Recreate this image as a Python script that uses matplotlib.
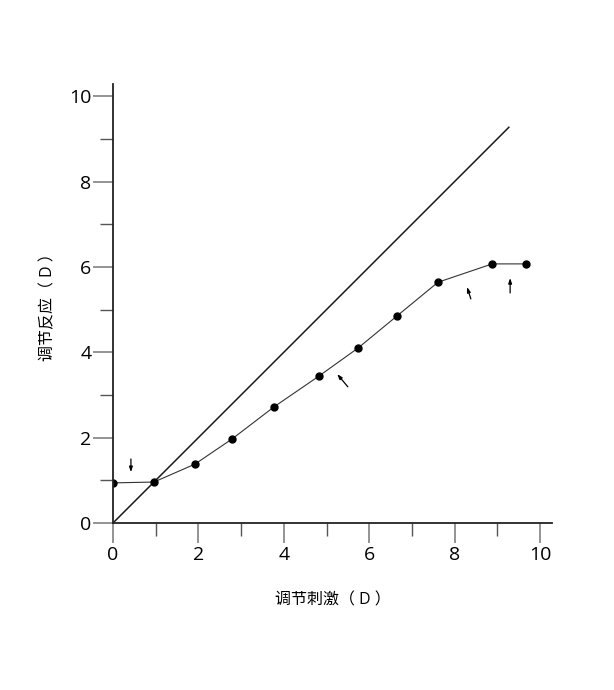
import matplotlib
matplotlib.use("Agg")
import matplotlib.pyplot as plt
from matplotlib.ticker import MultipleLocator

plt.rcParams['font.family'] = ['Open Sans', 'Noto Sans CJK SC', 'DejaVu Sans']

# measured accommodation response
stimulus = [0.0, 0.96, 1.92, 2.79, 3.77, 4.82, 5.74, 6.65, 7.61, 8.88, 9.67]
response = [0.94, 0.96, 1.38, 1.97, 2.72, 3.44, 4.10, 4.85, 5.64, 6.07, 6.07]

# ideal 1:1 line
ideal_x = [0.0, 9.27]
ideal_y = [0.0, 9.27]

# small arrows: (tail_x, tail_y, head_x, head_y)
arrows = [
    (0.42, 1.50, 0.42, 1.19),
    (5.50, 3.19, 5.25, 3.49),
    (8.38, 5.25, 8.29, 5.53),
    (9.30, 5.39, 9.30, 5.74),
]

x_label = '调节刺激（ D ）'
y_label = '调节反应（ D ）'

fig = plt.figure(figsize=(6.14, 6.9), dpi=100)
ax = fig.add_axes([0.184, 0.242, 0.715, 0.636])

ax.plot(ideal_x, ideal_y, color='#1a1a1a', lw=1.1)
ax.plot(stimulus, response, color='#333333', lw=0.8, marker='o', ms=5,
        mfc='black', mec='black')

for tx, ty, hx, hy in arrows:
    ax.annotate('', xy=(hx, hy), xytext=(tx, ty),
                arrowprops=dict(arrowstyle='-|>,head_length=0.3,head_width=0.1',
                                color='black', lw=0.9, shrinkA=0, shrinkB=0))

ax.set_xlim(0, 10.28)
ax.set_ylim(0, 10.28)
for side in ['top', 'right']:
    ax.spines[side].set_visible(False)
for side in ['left', 'bottom']:
    ax.spines[side].set_linewidth(1.3)
    ax.spines[side].set_color('#222222')

ax.xaxis.set_major_locator(MultipleLocator(2))
ax.xaxis.set_minor_locator(MultipleLocator(1))
ax.yaxis.set_major_locator(MultipleLocator(2))
ax.yaxis.set_minor_locator(MultipleLocator(1))
ax.tick_params(which='major', length=14.4, width=1.1, color='#777777', labelsize=14)
ax.tick_params(axis='x', which='major', pad=2)
ax.tick_params(axis='y', which='major', pad=1)
ax.tick_params(which='minor', length=9.4, width=1.0, color='#555555')

ax.set_xlabel(x_label, fontsize=11.5, labelpad=21)
ax.set_ylabel(y_label, fontsize=11.5, labelpad=9)

fig.savefig('out.png', dpi=100, facecolor='white')
